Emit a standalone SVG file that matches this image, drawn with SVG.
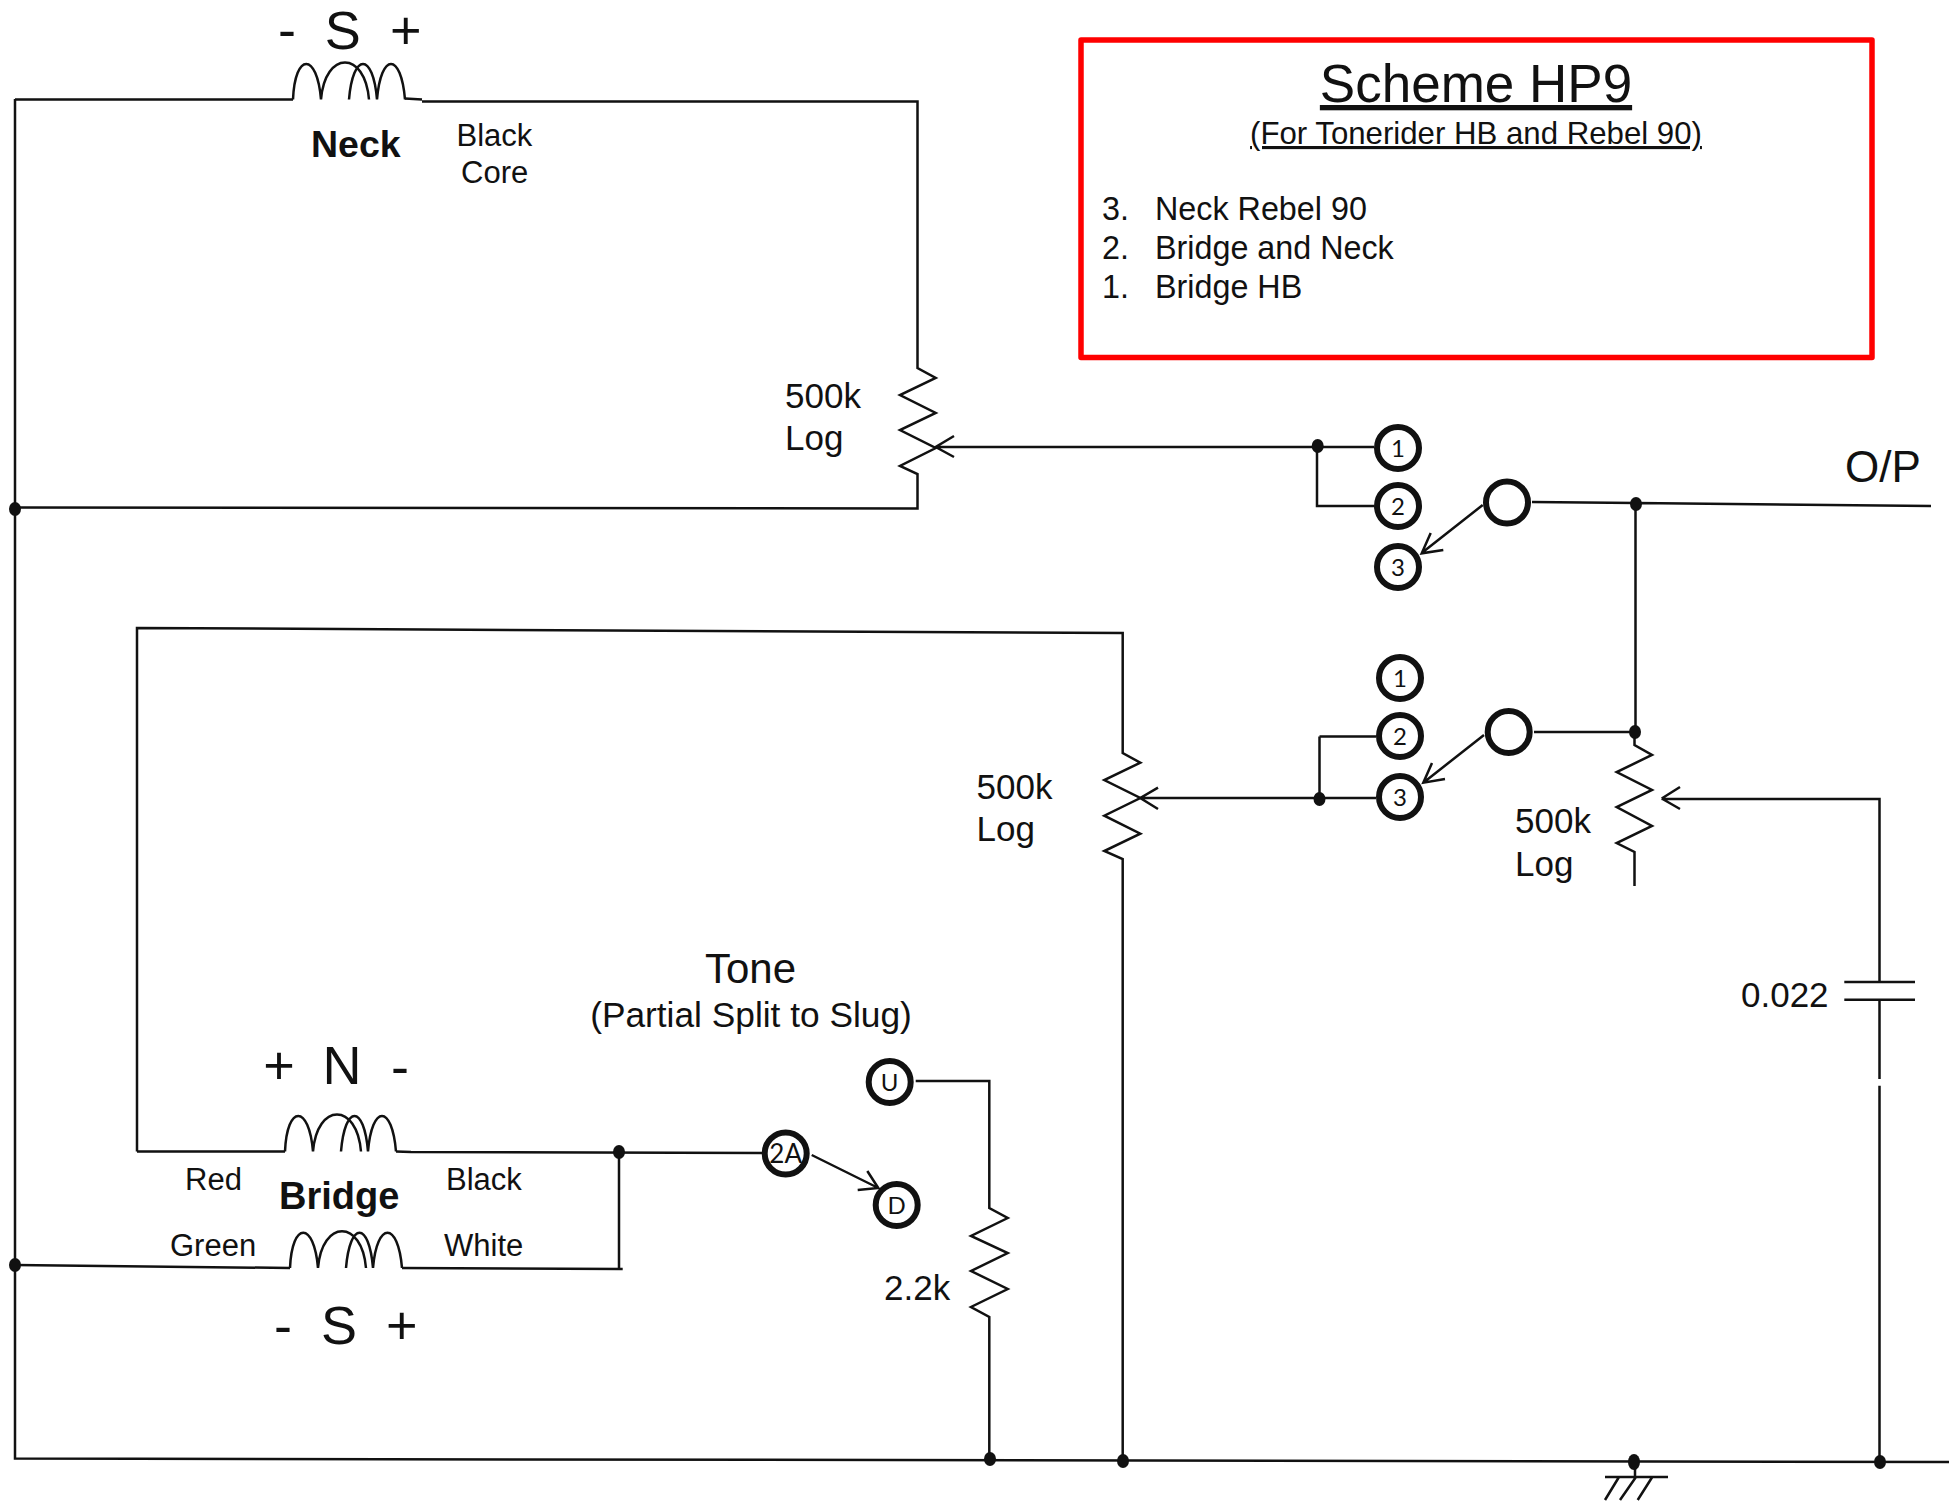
<svg xmlns="http://www.w3.org/2000/svg" width="1950" height="1501" viewBox="0 0 1950 1501">
<style>
text{font-family:"Liberation Sans",Arial,sans-serif;fill:#111}
.w{fill:none;stroke:#111;stroke-width:2.500;stroke-linejoin:miter}
.c{fill:#fff;stroke:#111;stroke-width:6}
.n{font-family:Lato,"Liberation Sans",sans-serif;font-size:24px;text-anchor:middle}
.s{font-size:35px}
.b{font-size:37.500px;font-weight:bold}
.m{font-size:31px}
.p{font-size:54px;text-anchor:middle}
.h{font-size:54px;text-anchor:middle}
.li{font-size:32.300px}
</style>
<rect width="1950" height="1501" fill="#fff"/>
<g id="connectors">
<path class="w" d="M15 99.500L293 99.500M405 98.500L422 99.500M422 101.500L917.500 101.500L917.500 368L935.700 378L900 395L935.700 413L900 430L935.700 448L900 466L917.500 474L917.500 508.500L15 507.500"/>
<path class="w" d="M15 99V1458.500L1949 1462"/>
<path class="w" d="M935.700 447H1374M954 436L935.700 447L954 457M1317 446V506H1374"/>
<path class="w" d="M1482.700 505L1421.700 553M1430.700 533L1421.700 553.300L1443.300 550"/>
<path class="w" d="M1532 502L1636 503L1931 506M1635.500 504V732"/>
<path class="w" d="M1534 732H1635M1634.500 732V745L1652 755L1616.700 772L1652 790L1616.700 807L1652 826L1616.700 843L1634.500 852V886"/>
<path class="w" d="M1484 735L1423.300 782.700M1432 763L1423.300 782.700L1445 779"/>
<path class="w" d="M1319.500 736.500H1376M1319.500 736.500V798M1140.300 798H1376M1158 787.700L1140.300 798L1158 809"/>
<path class="w" d="M137 1151.500V628L1122.700 633V753L1140.300 762.700L1104.300 780L1140.300 798L1104.300 815.700L1140.300 833.700L1104.300 851L1122.700 859V1462"/>
<path class="w" d="M137 1151.500H285M396 1151.500L411 1152L762 1153M619 1152V1269M402 1268L622.700 1269M290 1268L15 1265"/>
<path class="w" d="M915.700 1081H989.300V1208L1007.700 1218L971 1236L1007.700 1253L971 1271L1007.700 1289L971 1307L989.300 1317V1461"/>
<path class="w" d="M811.700 1155L878.300 1188M867.300 1171L878.300 1188L857.700 1190"/>
<path class="w" d="M1661.700 798.500L1680 787M1661.700 798.500L1680 809M1661.700 799H1879.500V982M1879.500 1000V1079M1879.500 1085.700V1462M1844.300 982H1915M1844.300 999.700H1915"/>
<path class="w" d="M1635 1462V1477M1605 1477H1668M1619 1477L1605 1500M1636 1477L1620 1500M1652.300 1477L1637.700 1500"/>
</g>
<g id="dots" fill="#111">
<ellipse cx="15" cy="509" rx="6" ry="7"/>
<ellipse cx="15" cy="1265" rx="6" ry="7"/>
<ellipse cx="1317.700" cy="446" rx="6" ry="7"/>
<ellipse cx="1319.500" cy="799" rx="6" ry="7"/>
<ellipse cx="1636" cy="504" rx="6" ry="7"/>
<ellipse cx="1635" cy="732" rx="6" ry="7"/>
<ellipse cx="619" cy="1152" rx="6" ry="7"/>
<ellipse cx="990" cy="1459" rx="6" ry="7"/>
<ellipse cx="1123" cy="1461" rx="6" ry="7"/>
<ellipse cx="1634" cy="1462" rx="6" ry="8"/>
<ellipse cx="1880" cy="1462" rx="6" ry="7"/>
</g>
<g id="neck-coil">
<path class="w" d="M293 99.500C295 52 317 52 321 99.500C325 50 365 50 369 99.500M349 99.500C353 52 373 52 377 99.500C381 52 401 52 405 99.500"/>
<text class="b" x="311" y="157">Neck</text>
<text class="p" x="287" y="48">-</text><text class="h" x="342.700" y="49">S</text><text class="p" x="405.700" y="49">+</text>
<text class="m" x="456.500" y="146">Black</text><text class="m" x="461" y="183">Core</text>
</g>
<g id="bridge-coils">
<path class="w" d="M285 1151.500C287 1104 309 1104 313 1151.500C317 1102 357 1102 361 1151.500M341 1151.500C345 1104 364 1104 368 1151.500C372 1104 392 1104 396 1151.500"/>
<path class="w" d="M290 1268C292 1221 314 1221 318 1268C322 1219 362 1219 366 1268M346 1268C350 1221 369 1221 373 1268C377 1221 398 1221 402 1268"/>
<text class="p" x="279" y="1084">+</text><text class="h" x="342" y="1084">N</text><text class="p" x="400" y="1085">-</text>
<text class="b" x="279" y="1209" style="font-size:38px">Bridge</text>
<text class="p" x="283" y="1344">-</text><text class="h" x="339" y="1344">S</text><text class="p" x="401.700" y="1344">+</text>
<text class="m" x="185" y="1190">Red</text><text class="m" x="446" y="1190">Black</text>
<text class="m" x="170" y="1256">Green</text><text class="m" x="444" y="1256">White</text>
</g>
<g id="switch-a">
<circle class="c" cx="1398" cy="448" r="21"/><text class="n" x="1398" y="457">1</text>
<circle class="c" cx="1398" cy="506" r="21"/><text class="n" x="1398" y="515">2</text>
<circle class="c" cx="1398" cy="567" r="21"/><text class="n" x="1398" y="576">3</text>
<circle class="c" cx="1507" cy="502.500" r="21"/>
</g>
<g id="switch-b">
<circle class="c" cx="1400" cy="678" r="21"/><text class="n" x="1400" y="687">1</text>
<circle class="c" cx="1400" cy="736" r="21"/><text class="n" x="1400" y="745">2</text>
<circle class="c" cx="1400" cy="797" r="21"/><text class="n" x="1400" y="806">3</text>
<circle class="c" cx="1508.700" cy="732" r="21"/>
</g>
<g id="tone-switch">
<circle class="c" cx="889.700" cy="1082" r="21"/><text class="n" x="889.700" y="1091">U</text>
<circle class="c" cx="785.700" cy="1153.500" r="21"/><text class="n" x="785.700" y="1163" style="font-size:26px">2A</text>
<circle class="c" cx="896.700" cy="1205" r="21"/><text class="n" x="896.700" y="1214">D</text>
</g>
<g id="labels">
<text class="s" x="785" y="408">500k</text><text class="s" x="785" y="450">Log</text>
<text class="s" x="976.500" y="799">500k</text><text class="s" x="976.500" y="841">Log</text>
<text class="s" x="1515" y="833">500k</text><text class="s" x="1515" y="876">Log</text>
<text class="s" x="884" y="1300">2.2k</text>
<text class="s" x="1741" y="1007">0.022</text>
<text x="1845" y="482" style="font-size:44px">O/P</text>
<text x="750.500" y="983" text-anchor="middle" style="font-size:42px">Tone</text>
<text x="751" y="1027" text-anchor="middle" style="font-size:35.300px">(Partial Split to Slug)</text>
</g>
<g id="title-box">
<rect x="1081" y="40" width="791" height="317.500" fill="none" stroke="#f00" stroke-width="5.500" stroke-linejoin="round"/>
<text x="1476" y="102" text-anchor="middle" text-decoration="underline" style="font-size:53px">Scheme HP9</text>
<text x="1476" y="144" text-anchor="middle" text-decoration="underline" style="font-size:31.200px">(For Tonerider HB and Rebel 90)</text>
<text class="li" x="1102" y="220">3.</text><text class="li" x="1155" y="220">Neck Rebel 90</text>
<text class="li" x="1102" y="259">2.</text><text class="li" x="1155" y="259">Bridge and Neck</text>
<text class="li" x="1102" y="298">1.</text><text class="li" x="1155" y="298">Bridge HB</text>
</g>
</svg>
